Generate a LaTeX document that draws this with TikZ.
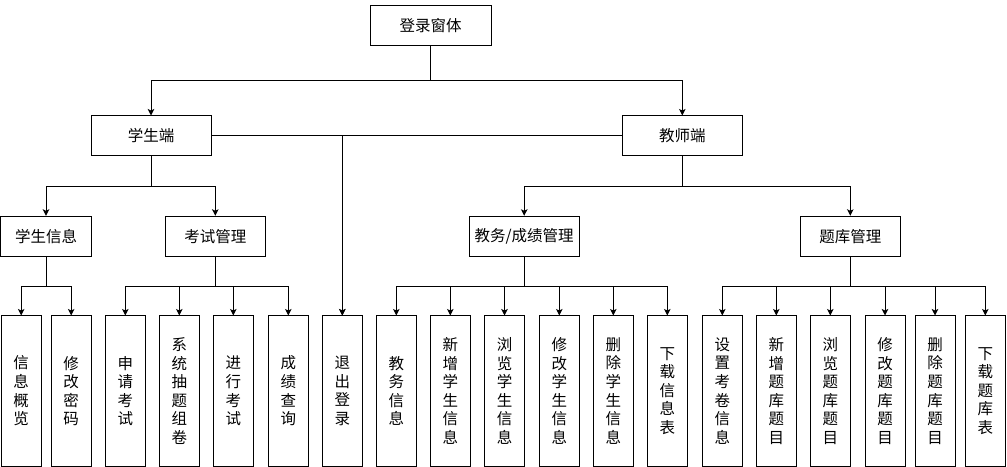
\documentclass[tikz,border=0pt]{standalone}
\usepackage{fontspec}
\newfontfamily\cjk{Noto Sans CJK SC}
\usetikzlibrary{arrows.meta}
\begin{document}
\begin{tikzpicture}[x=1bp,y=-1bp,
  box/.style={draw, line width=1bp, inner sep=0pt, font=\cjk\fontsize{15.5bp}{18.6bp}\selectfont, align=center},
  hbox/.style={box, minimum height=40bp},
  leaf/.style={box, minimum width=40bp, minimum height=150bp},
  arr/.style={line width=1bp, -{Stealth[length=6.5bp,width=6.5bp,inset=1.5bp]}},
  ln/.style={line width=1bp},
]
\useasboundingbox (0,0) rectangle (1007,467);
% bus levels
\coordinate (b0) at (0,81);
\coordinate (b1) at (0,186.3);
\coordinate (b2) at (0,286.3);
% nodes
\node[hbox, minimum width=121bp] (root) at (430.5,26) {登录窗体};
\node[hbox, minimum width=120bp] (xs) at (151,136) {学生端};
\node[hbox, minimum width=120bp] (js) at (682.3,136) {教师端};
\node[hbox, minimum width=90bp] (xsxx) at (46,236.3) {学生信息};
\node[hbox, minimum width=100bp] (ksgl) at (215.3,236.3) {考试管理};
\node[hbox, minimum width=110bp] (jw) at (524.2,236.3) {教务/成绩管理};
\node[hbox, minimum width=100bp] (tk) at (850.3,236.3) {题库管理};
% leaves
\node[leaf] (l1) at (21.2,391) {信\\息\\概\\览};
\node[leaf] (l2) at (71.2,391) {修\\改\\密\\码};
\node[leaf] (l3) at (125.3,391) {申\\请\\考\\试};
\node[leaf] (l4) at (179.3,391) {系\\统\\抽\\题\\组\\卷};
\node[leaf] (l5) at (233.3,391) {进\\行\\考\\试};
\node[leaf] (l6) at (288.3,391) {成\\绩\\查\\询};
\node[leaf] (l7) at (342.3,391) {退\\出\\登\\录};
\node[leaf] (l8) at (396.3,391) {教\\务\\信\\息};
\node[leaf] (l9) at (450.3,391) {新\\增\\学\\生\\信\\息};
\node[leaf] (l10) at (504.5,391) {浏\\览\\学\\生\\信\\息};
\node[leaf] (l11) at (559.3,391) {修\\改\\学\\生\\信\\息};
\node[leaf] (l12) at (613.3,391) {删\\除\\学\\生\\信\\息};
\node[leaf] (l13) at (667.3,391) {下\\载\\信\\息\\表};
\node[leaf] (l14) at (722.3,391) {设\\置\\考\\卷\\信\\息};
\node[leaf] (l15) at (776.3,391) {新\\增\\题\\库\\题\\目};
\node[leaf] (l16) at (830.3,391) {浏\\览\\题\\库\\题\\目};
\node[leaf] (l17) at (885,391) {修\\改\\题\\库\\题\\目};
\node[leaf] (l18) at (935,391) {删\\除\\题\\库\\题\\目};
\node[leaf] (l19) at (985.3,391) {下\\载\\题\\库\\表};
% connectors level 0 -> 1
\draw[ln] (root.south) -- (root.south |- b0);
\draw[arr] (root.south |- b0) -| (xs.north);
\draw[arr] (root.south |- b0) -| (js.north);
% exit
\draw[arr] (xs.east) -| (l7.north);
\draw[arr] (js.west) -| (l7.north);
% level 1 -> 2
\draw[ln] (xs.south) -- (xs.south |- b1);
\draw[arr] (xs.south |- b1) -| (xsxx.north);
\draw[arr] (xs.south |- b1) -| (ksgl.north);
\draw[ln] (js.south) -- (js.south |- b1);
\draw[arr] (js.south |- b1) -| (jw.north);
\draw[arr] (js.south |- b1) -| (tk.north);
% level 2 -> 3
\draw[ln] (xsxx.south) -- (xsxx.south |- b2);
\foreach \l in {l1,l2} \draw[arr] (xsxx.south |- b2) -| (\l.north);
\draw[ln] (ksgl.south) -- (ksgl.south |- b2);
\foreach \l in {l3,l4,l5,l6} \draw[arr] (ksgl.south |- b2) -| (\l.north);
\draw[ln] (jw.south) -- (jw.south |- b2);
\foreach \l in {l8,l9,l10,l11,l12,l13} \draw[arr] (jw.south |- b2) -| (\l.north);
\draw[ln] (tk.south) -- (tk.south |- b2);
\foreach \l in {l14,l15,l16,l17,l18,l19} \draw[arr] (tk.south |- b2) -| (\l.north);
\end{tikzpicture}
\end{document}
